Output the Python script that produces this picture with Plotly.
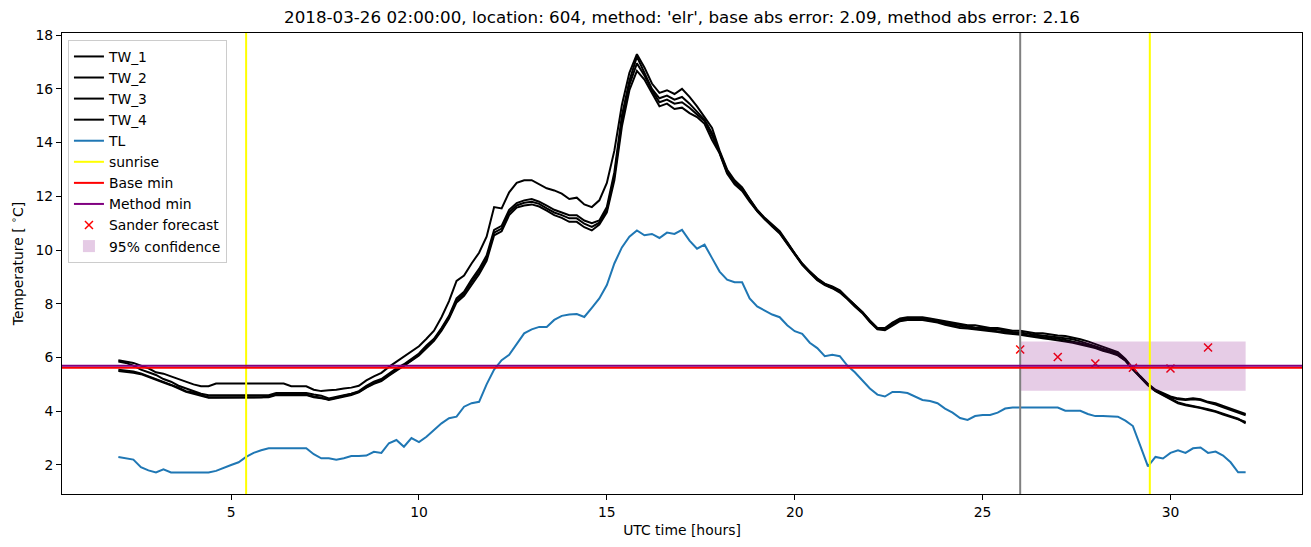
import plotly.graph_objects as go

# ---------------- data ----------------
hours = [round(2 + 0.2 * i, 1) for i in range(151)]

TW_1 = [5.9, 5.85, 5.8, 5.7, 5.6, 5.45, 5.4, 5.3, 5.2, 5.1,
        5.0, 4.93, 4.93, 5.03, 5.03, 5.03, 5.03, 5.03, 5.03, 5.03,
        5.03, 5.03, 5.03, 4.93, 4.93, 4.93, 4.8, 4.75, 4.78, 4.8,
        4.85, 4.88, 4.95, 5.15, 5.3, 5.43, 5.65, 5.85, 6.05, 6.25,
        6.42, 6.7, 7.0, 7.5, 8.1, 8.85, 9.05, 9.5, 9.9, 10.5,
        11.6, 11.55, 12.15, 12.5, 12.6, 12.6, 12.45, 12.3, 12.22, 12.1,
        11.9, 11.95, 11.7, 11.6, 11.85, 12.5, 13.7, 15.4, 16.6, 17.29,
        16.8, 16.2, 15.85, 15.95, 15.81, 16.0, 15.7, 15.35, 14.95, 14.55,
        13.7, 13.0, 12.6, 12.33, 11.9, 11.5, 11.2, 10.95, 10.7, 10.3,
        9.87, 9.5, 9.2, 8.95, 8.75, 8.65, 8.5, 8.22, 7.95, 7.7,
        7.38, 7.1, 7.1, 7.3, 7.45, 7.5, 7.5, 7.5, 7.45, 7.4,
        7.35, 7.3, 7.25, 7.2, 7.2, 7.15, 7.1, 7.1, 7.05, 7.0,
        7.0, 6.95, 6.9, 6.9, 6.85, 6.82, 6.8, 6.75, 6.68, 6.6,
        6.5, 6.4, 6.3, 6.2, 5.95, 5.6, 5.3, 5.02, 4.8, 4.68,
        4.55, 4.48, 4.45, 4.48, 4.45, 4.35, 4.3, 4.2, 4.1, 4.0, 3.9]

TW_2 = [5.85, 5.8, 5.7, 5.55, 5.45, 5.35, 5.2, 5.1, 4.95, 4.85,
        4.75, 4.65, 4.6, 4.6, 4.6, 4.6, 4.6, 4.6, 4.6, 4.6,
        4.6, 4.68, 4.68, 4.68, 4.68, 4.68, 4.62, 4.58, 4.48, 4.55,
        4.6, 4.65, 4.75, 4.95, 5.1, 5.2, 5.4, 5.6, 5.75, 5.95,
        6.15, 6.45, 6.7, 7.1, 7.55, 8.2, 8.45, 8.9, 9.3, 9.8,
        10.75, 10.9, 11.5, 11.75, 11.85, 11.9, 11.8, 11.65, 11.5, 11.4,
        11.3, 11.3, 11.1, 11.0, 11.1, 11.6, 12.9, 15.0, 16.3, 17.2,
        16.6, 16.0, 15.65, 15.75, 15.6, 15.7, 15.45, 15.15, 14.85, 14.35,
        13.6, 12.9, 12.5, 12.25, 11.85, 11.45, 11.15, 10.9, 10.65, 10.25,
        9.85, 9.47, 9.18, 8.9, 8.72, 8.6, 8.45, 8.2, 7.92, 7.68,
        7.35, 7.08, 7.05, 7.25, 7.4, 7.45, 7.45, 7.45, 7.4, 7.35,
        7.3, 7.25, 7.2, 7.15, 7.12, 7.1, 7.05, 7.05, 7.0, 6.95,
        6.93, 6.88, 6.85, 6.82, 6.78, 6.75, 6.72, 6.68, 6.6, 6.52,
        6.42, 6.33, 6.25, 6.15, 5.92, 5.58, 5.28, 5.0, 4.78, 4.65,
        4.52, 4.45, 4.42, 4.45, 4.42, 4.32, 4.25, 4.15, 4.05, 3.95, 3.85]

TW_3 = [5.55, 5.52, 5.48, 5.41, 5.3, 5.2, 5.1, 5.0, 4.88, 4.75,
        4.7, 4.6, 4.52, 4.52, 4.52, 4.52, 4.52, 4.52, 4.52, 4.52,
        4.55, 4.62, 4.62, 4.62, 4.62, 4.62, 4.55, 4.5, 4.42, 4.48,
        4.55, 4.6, 4.7, 4.88, 5.02, 5.12, 5.32, 5.5, 5.68, 5.88,
        6.08, 6.35, 6.62, 7.0, 7.45, 8.05, 8.3, 8.7, 9.1, 9.6,
        10.55, 10.7, 11.3, 11.58, 11.66, 11.7, 11.62, 11.47, 11.3, 11.2,
        11.05, 11.05, 10.85, 10.73, 10.95, 11.4, 12.6, 14.6, 15.95, 16.67,
        16.35, 15.85, 15.35, 15.45, 15.25, 15.3, 15.1, 14.95, 14.7, 14.1,
        13.6, 12.85, 12.45, 12.2, 11.8, 11.45, 11.15, 10.88, 10.62, 10.22,
        9.83, 9.45, 9.15, 8.88, 8.7, 8.58, 8.42, 8.18, 7.9, 7.65,
        7.32, 7.05, 7.02, 7.2, 7.35, 7.4, 7.4, 7.4, 7.35, 7.3,
        7.22, 7.15, 7.1, 7.08, 7.05, 7.02, 6.98, 6.95, 6.9, 6.88,
        6.85, 6.8, 6.75, 6.72, 6.68, 6.65, 6.6, 6.55, 6.48, 6.42,
        6.35, 6.25, 6.18, 6.08, 5.88, 5.55, 5.25, 4.97, 4.75, 4.6,
        4.45, 4.3, 4.22, 4.18, 4.12, 4.05, 3.98, 3.88, 3.8, 3.7, 3.6]

TW_4 = [5.5, 5.47, 5.43, 5.38, 5.27, 5.17, 5.07, 4.97, 4.85, 4.72,
        4.65, 4.57, 4.5, 4.5, 4.5, 4.5, 4.5, 4.5, 4.5, 4.5,
        4.52, 4.6, 4.6, 4.6, 4.6, 4.6, 4.52, 4.48, 4.45, 4.5,
        4.57, 4.63, 4.72, 4.9, 5.05, 5.15, 5.35, 5.55, 5.7, 5.9,
        6.1, 6.4, 6.66, 7.05, 7.5, 8.12, 8.38, 8.8, 9.2, 9.7,
        10.65, 10.8, 11.4, 11.66, 11.76, 11.8, 11.72, 11.55, 11.4, 11.3,
        11.18, 11.18, 10.98, 10.86, 11.02, 11.5, 12.75, 14.8, 16.15, 16.95,
        16.5, 15.95, 15.5, 15.6, 15.45, 15.5, 15.3, 15.05, 14.8, 14.25,
        13.65, 12.95, 12.55, 12.3, 11.88, 11.48, 11.18, 10.92, 10.66, 10.28,
        9.86, 9.48, 9.2, 8.93, 8.73, 8.62, 8.48, 8.21, 7.93, 7.69,
        7.36, 7.08, 7.06, 7.28, 7.42, 7.47, 7.47, 7.43, 7.38, 7.33,
        7.27, 7.2, 7.15, 7.12, 7.08, 7.05, 7.02, 6.98, 6.95, 6.92,
        6.88, 6.83, 6.8, 6.77, 6.72, 6.7, 6.65, 6.6, 6.53, 6.46,
        6.38, 6.28, 6.2, 6.1, 5.9, 5.56, 5.26, 4.98, 4.76, 4.62,
        4.47, 4.33, 4.25, 4.2, 4.15, 4.08, 4.0, 3.92, 3.82, 3.72, 3.55]

TL = [2.3, 2.25, 2.2, 1.92, 1.8, 1.72, 1.84, 1.72, 1.72, 1.72,
      1.72, 1.72, 1.72, 1.78, 1.9, 2.0, 2.1, 2.3, 2.45, 2.55,
      2.62, 2.62, 2.62, 2.62, 2.62, 2.62, 2.4, 2.25, 2.25, 2.2,
      2.25, 2.33, 2.33, 2.35, 2.49, 2.45, 2.81, 2.93, 2.68, 3.0,
      2.85, 3.05, 3.3, 3.55, 3.74, 3.8, 4.17, 4.3, 4.35, 5.0,
      5.55, 5.9, 6.1, 6.5, 6.9, 7.05, 7.14, 7.14, 7.4, 7.55,
      7.6, 7.62, 7.51, 7.85, 8.2, 8.7, 9.5, 10.1, 10.5, 10.73,
      10.55, 10.6, 10.45, 10.65, 10.6, 10.75, 10.35, 10.05, 10.2, 9.7,
      9.2, 8.9, 8.8, 8.8, 8.2, 7.9, 7.75, 7.6, 7.5, 7.2,
      6.98, 6.88, 6.55, 6.35, 6.05, 6.1, 6.05, 5.7, 5.45, 5.15,
      4.85, 4.62, 4.55, 4.72, 4.72, 4.68, 4.55, 4.42, 4.38, 4.3,
      4.1, 3.95, 3.75, 3.68, 3.82, 3.86, 3.86, 3.95, 4.1, 4.14,
      4.14, 4.14, 4.14, 4.14, 4.14, 4.14, 4.02, 4.02, 4.02, 3.9,
      3.82, 3.82, 3.82, 3.8, 3.65, 3.45, 2.7, 1.95, 2.3, 2.24,
      2.45, 2.55, 2.45, 2.62, 2.65, 2.45, 2.5, 2.35, 2.1, 1.73, 1.73]

sunrise_hours = [5.4, 29.45]
forecast_time = 26.0
base_min = 5.62
method_min = 5.69
sander_hours = [26, 27, 28, 29, 30, 31]
sander_forecast = [6.3, 6.02, 5.78, 5.62, 5.59, 6.37]
conf_start, conf_end = 26.0, 32.0
conf_lower, conf_upper = 4.76, 6.6

title_text = "2018-03-26 02:00:00, location: 604, method: 'elr', base abs error: 2.09, method abs error: 2.16"

# ---------------- figure ----------------
FONT = "DejaVu Sans"
fig = go.Figure()

rank = 1
for name, vals in [("TW_1", TW_1), ("TW_2", TW_2), ("TW_3", TW_3), ("TW_4", TW_4)]:
    fig.add_trace(go.Scatter(x=hours, y=vals, mode="lines", name=name,
                             line=dict(color="black", width=2), legendrank=rank))
    rank += 1
fig.add_trace(go.Scatter(x=hours, y=TL, mode="lines", name="TL",
                         line=dict(color="#1f77b4", width=2), legendrank=5))

fig.add_trace(go.Scatter(x=sander_hours, y=sander_forecast, mode="markers",
                         name="Sander forecast", legendrank=9,
                         marker=dict(symbol="x-thin", size=8, color="red",
                                     line=dict(color="red", width=1.5))))

# confidence band
fig.add_shape(type="rect", xref="x", yref="y", x0=conf_start, x1=conf_end,
              y0=conf_lower, y1=conf_upper, fillcolor="purple", opacity=0.2,
              line=dict(width=0), layer="above", name="95% confidence",
              showlegend=True, legendrank=10)

# sunrise lines
for i, h in enumerate(sunrise_hours):
    fig.add_shape(type="line", xref="x", yref="paper", x0=h, x1=h, y0=0, y1=1,
                  line=dict(color="yellow", width=2), layer="above",
                  name="sunrise", showlegend=(i == 0), legendrank=6)

# forecast time line
fig.add_shape(type="line", xref="x", yref="paper", x0=forecast_time, x1=forecast_time,
              y0=0, y1=1, line=dict(color="gray", width=2), layer="above")

# min lines
fig.add_shape(type="line", xref="paper", yref="y", x0=0, x1=1, y0=base_min, y1=base_min,
              line=dict(color="red", width=2), layer="above",
              name="Base min", showlegend=True, legendrank=7)
fig.add_shape(type="line", xref="paper", yref="y", x0=0, x1=1, y0=method_min, y1=method_min,
              line=dict(color="purple", width=2), layer="above",
              name="Method min", showlegend=True, legendrank=8)

axis_common = dict(showline=True, mirror=True, linecolor="black", linewidth=1,
                   ticks="outside", ticklen=5, tickwidth=1, tickcolor="black",
                   showgrid=False, zeroline=False,
                   tickfont=dict(family=FONT, size=13.9, color="black"))

fig.update_layout(
    width=1311, height=547,
    margin=dict(l=62, r=9, t=33, b=53),
    plot_bgcolor="white", paper_bgcolor="white",
    font=dict(family=FONT, size=13.9, color="black"),
    title=dict(text=title_text, x=0.5, xref="paper", xanchor="center",
               y=1 - 17 / 547, yref="container", yanchor="middle",
               font=dict(family=FONT, size=16.7, color="black")),
    xaxis=dict(range=[0.5, 33.5], tickvals=[5, 10, 15, 20, 25, 30],
               title=dict(text="UTC time [hours]", standoff=6,
                          font=dict(family=FONT, size=13.9)),
               **axis_common),
    yaxis=dict(range=[0.92, 18.08], tickvals=[2, 4, 6, 8, 10, 12, 14, 16, 18],
               title=dict(text="Temperature [ <sup>∘</sup>C]", standoff=8,
                          font=dict(family=FONT, size=13.9)),
               **axis_common),
    legend=dict(x=0.0048, y=0.985, xanchor="left", yanchor="top",
                bgcolor="rgba(255,255,255,0.8)", bordercolor="#cccccc", borderwidth=1,
                font=dict(family=FONT, size=13.9, color="black"),
                itemwidth=30, tracegroupgap=0),
    showlegend=True,
)

fig.write_html("out.html")
